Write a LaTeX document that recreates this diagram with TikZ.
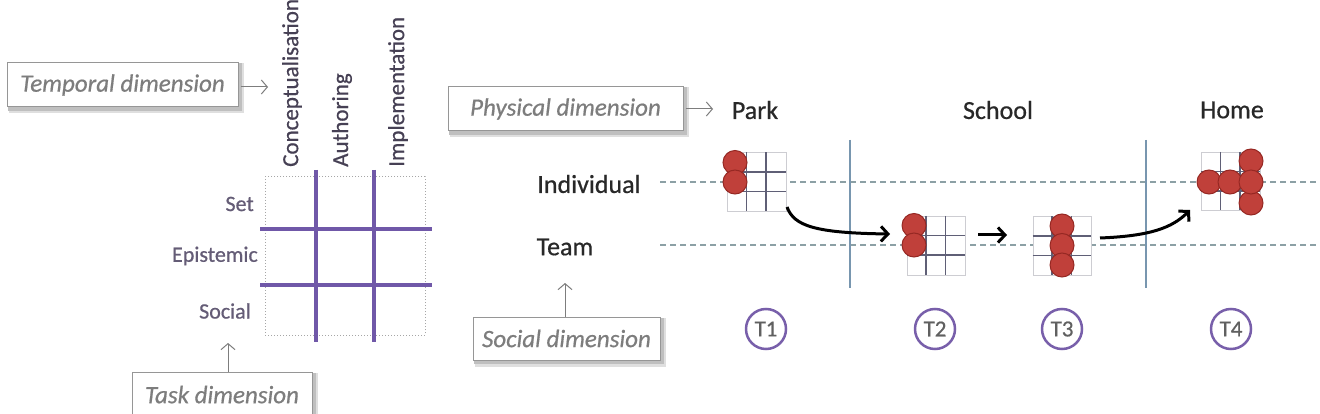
\documentclass[tikz,border=0pt]{standalone}
\usepackage{fontspec}
\setmainfont{Carlito}
\newfontfamily\medfont[FakeBold=0.6]{Carlito}
\usetikzlibrary{arrows.meta,backgrounds}
\definecolor{purp}{RGB}{112,88,168}
\definecolor{lblpurp}{RGB}{100,92,118}
\definecolor{rotlbl}{RGB}{70,64,84}
\definecolor{boxtxt}{RGB}{125,125,125}
\definecolor{boxline}{RGB}{150,150,150}
\definecolor{darktxt}{RGB}{40,40,40}
\definecolor{dashc}{RGB}{140,160,165}
\definecolor{bluel}{RGB}{120,150,175}
\definecolor{redfill}{RGB}{192,64,58}
\definecolor{redline}{RGB}{150,40,35}
\definecolor{gridlight}{RGB}{205,205,210}
\definecolor{griddark}{RGB}{95,95,118}
\definecolor{tcirc}{RGB}{120,95,170}
\tikzset{
  dimbox/.style={draw=boxline, line width=1pt, fill=white, inner sep=0pt,
    font=\medfont\itshape\fontsize{25}{30}\selectfont, text=boxtxt},
  shadowA/.style={fill=gray!25},
  shadowB/.style={fill=gray!50},
  garrow/.style={draw=boxtxt, line width=1pt, -{Straight Barb[length=6pt,width=14pt]}},
  rotlabel/.style={rotate=90, anchor=west, inner sep=0pt, text=rotlbl, font=\medfont\fontsize{23}{28}\selectfont},
  rowlabel/.style={anchor=east, inner sep=0pt, text=lblpurp, font=\medfont\fontsize{22}{26}\selectfont},
  place/.style={text=darktxt, inner sep=0pt, font=\medfont\fontsize{26}{30}\selectfont},
  purpline/.style={draw=purp, line width=3.5pt},
  dashline/.style={draw=dashc, line width=1.5pt, dash pattern=on 6pt off 4pt},
  sepline/.style={draw=bluel, line width=1.5pt},
  tnode/.style={circle, draw=tcirc, line width=2.5pt, minimum size=40pt, inner sep=0pt,
    text=gray!75!black, font=\medfont\fontsize{23}{26}\selectfont},
  redc/.style={circle, fill=redfill, draw=redline, line width=1pt, minimum size=24pt, inner sep=0pt},
  bigarrow/.style={draw=black, line width=3pt, -{Straight Barb[length=7pt,width=15pt]}},
  gridbox/.style={draw=gridlight, fill=white, line width=1pt, minimum width=58.5pt, minimum height=58.5pt, inner sep=0pt, anchor=north west},
  gridin/.style={draw=griddark, line width=1.8pt}
}
% #1 left, #2 top, #3 name
\newcommand\mgrid[3]{%
  \node[gridbox] (#3) at (#1,#2) {};
  \draw[gridin] (#1+19.5,#2) -- (#1+19.5,#2+58.5);
  \draw[gridin] (#1+39,#2) -- (#1+39,#2+58.5);
  \draw[gridin] (#1,#2+19.5) -- (#1+58.5,#2+19.5);
  \draw[gridin] (#1,#2+39) -- (#1+58.5,#2+39);
}
% soft shadow behind a named box
\newcommand\boxshadow[1]{%
  \fill[shadowA] ([shift={(2,1)}]#1.north west) rectangle ([shift={(5,6)}]#1.south east);
  \fill[shadowB] ([shift={(1,1)}]#1.north west) rectangle ([shift={(3,3.5)}]#1.south east);
}
\begin{document}
\begin{tikzpicture}[x=1pt,y=-1pt]
\useasboundingbox (0,0) rectangle (1320,414);
\clip (0,0) rectangle (1320,414);

% ---------- left part ----------
\node[dimbox, minimum width=231pt, minimum height=44pt] (tbox) at (122.5,85) {Temporal dimension};
\coordinate (tarr) at (268,87);
\draw[garrow] ([xshift=2pt]tbox.east |- tarr) -- (tarr);

\node[rotlabel] (concept) at (292,167) {Conceptualisation};
\node[rotlabel] (author) at (342,167) {Authoring};
\node[rotlabel] (impl) at (398,167) {Implementation};

\node[draw=gray!70, dotted, line width=1pt, minimum width=160pt, minimum height=158pt, inner sep=0pt] (grid) at (345,256) {};
\draw[purpline] (316,170) -- (316,342);
\draw[purpline] (374,170) -- (374,342);
\draw[purpline] (260,229) -- (432,229);
\draw[purpline] (260,285) -- (432,285);

\node[rowlabel] (set) at (254,204) {Set};
\node[rowlabel] (epi) at (258,256) {Epistemic};
\node[rowlabel] (soc) at (251,311) {Social};

\node[dimbox, minimum width=180pt, minimum height=50pt, anchor=north] (taskbox) at (222,372) {\raisebox{6pt}{Task dimension}};
\coordinate (taskarr) at (228,343);
\draw[garrow] (taskbox.north -| taskarr) -- (taskarr);

% ---------- right part ----------
\node[dimbox, minimum width=235pt, minimum height=44pt] (pbox) at (565.5,109) {Physical dimension};
\coordinate (parr) at (713,109);
\draw[garrow] ([xshift=2pt]pbox.east |- parr) -- (parr);

\node[place] (park) at (755,110) {Park};
\node[place] (school) at (998,110) {School};
\node[place] (home) at (1232,110) {Home};
\node[place] (indiv) at (589,184) {Individual};
\node[place] (team) at (565,247) {Team};

\coordinate (dl1s) at (660,182);
\coordinate (dl1e) at (1320,182);
\coordinate (dl2s) at (660,245);
\coordinate (dl2e) at (1320,245);
\draw[dashline] (dl1s) -- (dl1e);
\draw[dashline] (dl2s) -- (dl2e);

\coordinate (v1t) at (850,140);
\coordinate (v1b) at (850,288);
\coordinate (v2t) at (1146,140);
\coordinate (v2b) at (1146,288);
\draw[sepline] (v1t) -- (v1b);
\draw[sepline] (v2t) -- (v2b);

\node[dimbox, minimum width=187pt, minimum height=43pt] (sbox) at (566.5,338.5) {Social dimension};
\coordinate (sarr) at (565,283);
\draw[garrow] (sbox.north -| sarr) -- (sarr);

% T labels
\node[tnode] (t1) at (766,329) {T1};
\node[tnode] (t2) at (935,329) {T2};
\node[tnode] (t3) at (1062,329) {T3};
\node[tnode] (t4) at (1231,329) {T4};

% mini grids
\mgrid{727}{152.5}{g1}
\node[redc] (c11) at (735,162.5) {};
\node[redc] (c12) at (735,182) {};

\mgrid{906.5}{216}{g2}
\node[redc] (c21) at (914,225.5) {};
\node[redc] (c22) at (914,245) {};

\mgrid{1032.5}{216.5}{g3}
\node[redc] (c31) at (1062,226) {};
\node[redc] (c32) at (1062,245.5) {};
\node[redc] (c33) at (1062,265) {};

\mgrid{1201}{152}{g4}
\node[redc] (c41) at (1209,182) {};
\node[redc] (c42) at (1230,182) {};
\node[redc] (c44) at (1251,161) {};
\node[redc] (c45) at (1251,203) {};
\node[redc] (c43) at (1251,182) {};

% arrows between grids
\coordinate (a1s) at (787,207);
\coordinate (a1e) at (890,234);
\draw[bigarrow] (a1s) .. controls (794,226) and (815,233) .. (a1e);
\coordinate (a2s) at (978,235);
\coordinate (a2e) at (1007,235);
\draw[bigarrow] (a2s) -- (a2e);
\coordinate (a3s) at (1100,238);
\coordinate (a3e) at (1190,210);
\draw[bigarrow] (a3s) .. controls (1150,236) and (1172,228) .. (a3e);

% background and box shadows
\begin{pgfonlayer}{background}
\fill[white] (0,0) rectangle (1320,414);
\boxshadow{tbox}
\boxshadow{taskbox}
\boxshadow{pbox}
\boxshadow{sbox}
\end{pgfonlayer}
\end{tikzpicture}
\end{document}
